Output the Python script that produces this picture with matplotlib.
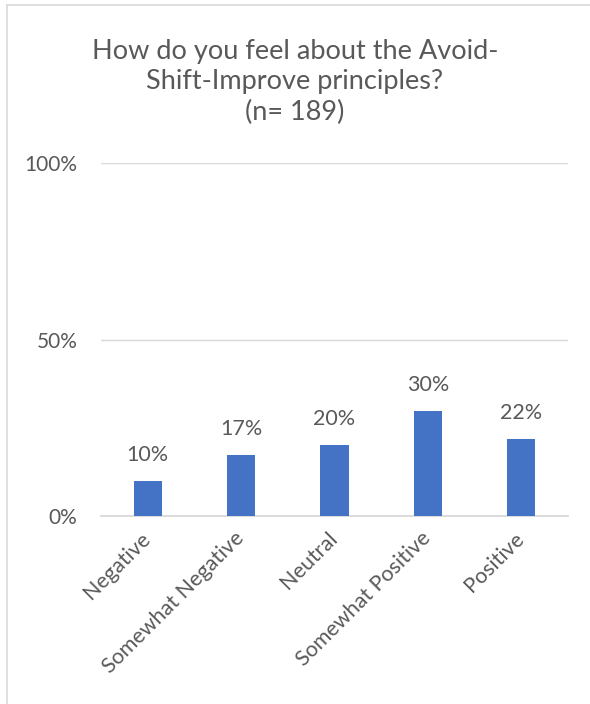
import matplotlib.pyplot as plt
from matplotlib.lines import Line2D

plt.rcParams['font.family'] = ['Lato', 'DejaVu Sans']

categories = ['Negative', 'Somewhat Negative', 'Neutral', 'Somewhat Positive', 'Positive']
values = [9.9, 17.4, 20.1, 29.7, 21.8]
labels = ['10%', '17%', '20%', '30%', '22%']
yticks = [0, 50, 100]
ytick_labels = ['0%', '50%', '100%']

text_col = '#595959'
bar_col = '#4472C4'

fig = plt.figure(figsize=(5.9, 7.04), dpi=100)
ax = fig.add_axes([101/590, 1 - 516/704, 467/590, 353/704])

x = range(len(categories))
ax.bar(x, values, width=0.3, color=bar_col, zorder=3)
for i, v in enumerate(values):
    ax.text(i, v + 4.5, labels[i], ha='center', va='bottom', fontsize=15.5, color=text_col)

ax.set_xlim(-0.5, len(categories) - 0.5)
ax.set_ylim(0, 100)
ax.set_yticks(yticks)
ax.set_yticklabels(ytick_labels)
ax.set_xticks(list(x))
ax.set_xticklabels(categories, rotation=45, ha='right', va='center', rotation_mode='anchor')
ax.tick_params(axis='both', length=0, labelsize=15, colors=text_col)
ax.tick_params(axis='x', labelsize=15.5, pad=14)
ax.tick_params(axis='y', pad=17)
ax.grid(axis='y', color='#d9d9d9', linewidth=1, zorder=0)
for s in ['top', 'right', 'left']:
    ax.spines[s].set_visible(False)
ax.spines['bottom'].set_color('#d9d9d9')
ax.spines['bottom'].set_linewidth(1.3)

fig.text(0.5, 1 - 82/704, 'How do you feel about the Avoid-\nShift-Improve principles?\n(n= 189)',
         ha='center', va='center', fontsize=19.5, color=text_col, linespacing=1.28)

# chart area border (left and top edges visible)
fig.add_artist(Line2D([7/590, 7/590], [0, 1 - 5/704], color='#d9d9d9', lw=1.2))
fig.add_artist(Line2D([7/590, 1], [1 - 5/704, 1 - 5/704], color='#d9d9d9', lw=1.2))

fig.savefig('out.png', dpi=100)
